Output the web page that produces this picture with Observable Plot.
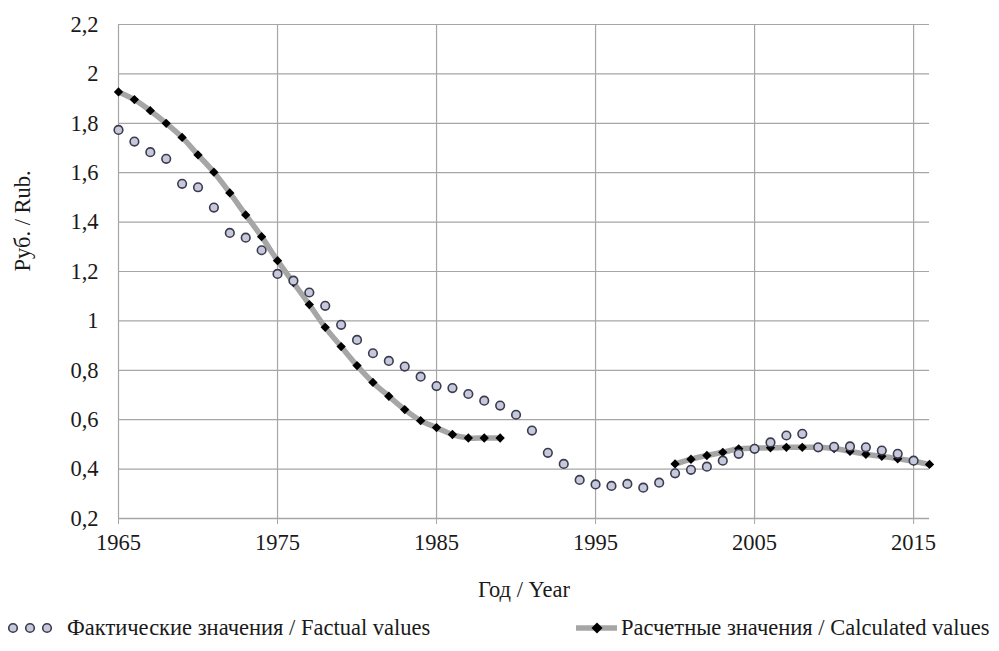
<!DOCTYPE html>
<html>
<head>
<meta charset="utf-8">
<script src="https://cdn.jsdelivr.net/npm/d3@7"></script>
<script src="https://cdn.jsdelivr.net/npm/@observablehq/plot@0.6"></script>
<style>
  html, body { margin: 0; padding: 0; background: #fff; }
  #wrap { position: relative; width: 999px; height: 651px; color: #1a1a1a; font-family: "Liberation Serif", serif; }
  #legend { position: absolute; left: 0; top: 610px; width: 999px; height: 41px; }
  .lg { position: absolute; top: 4px; font-size: 22.5px; line-height: 28px; white-space: nowrap; }
</style>
</head>
<body>
<div id="wrap">
  <div id="chart"></div>
  <div id="legend"></div>
</div>
<script>
const factualYears = [1965,1966,1967,1968,1969,1970,1971,1972,1973,1974,1975,1976,1977,1978,1979,1980,1981,1982,1983,1984,1985,1986,1987,1988,1989,1990,1991,1992,1993,1994,1995,1996,1997,1998,1999,2000,2001,2002,2003,2004,2005,2006,2007,2008,2009,2010,2011,2012,2013,2014,2015];
const factualValues = [1.773,1.726,1.683,1.656,1.555,1.541,1.459,1.356,1.337,1.286,1.19,1.163,1.115,1.061,0.984,0.923,0.869,0.838,0.815,0.774,0.736,0.728,0.704,0.677,0.657,0.62,0.556,0.466,0.421,0.356,0.338,0.332,0.34,0.325,0.345,0.383,0.397,0.41,0.434,0.462,0.482,0.508,0.536,0.543,0.488,0.49,0.492,0.488,0.475,0.462,0.434];

const calcYears1 = [1965,1966,1967,1968,1969,1970,1971,1972,1973,1974,1975,1976,1977,1978,1979,1980,1981,1982,1983,1984,1985,1986,1987,1988,1989];
const calcValues1 = [1.927,1.896,1.851,1.8,1.743,1.672,1.602,1.518,1.429,1.341,1.244,1.155,1.066,0.974,0.896,0.819,0.751,0.695,0.641,0.596,0.568,0.54,0.526,0.526,0.526];
const calcYears2 = [2000,2001,2002,2003,2004,2005,2006,2007,2008,2009,2010,2011,2012,2013,2014,2015,2016];
const calcValues2 = [0.421,0.44,0.455,0.468,0.482,0.485,0.486,0.488,0.488,0.488,0.483,0.472,0.46,0.452,0.442,0.432,0.419];

const xTicks = [1965,1975,1985,1995,2005,2015];
const yTicks = [0.2,0.4,0.6,0.8,1,1.2,1.4,1.6,1.8,2,2.2];
const xLabel = "Год / Year";
const yLabel = "Руб. / Rub.";
const legendFactual = "Фактические значения / Factual values";
const legendCalc = "Расчетные значения / Calculated values";

const fact = factualYears.map((y, i) => ({year: y, value: factualValues[i]}));
const calc1 = calcYears1.map((y, i) => ({year: y, value: calcValues1[i]}));
const calc2 = calcYears2.map((y, i) => ({year: y, value: calcValues2[i]}));
const calcAll = calc1.concat(calc2);

const GRID = "#a6a6a6";
const CIRCLE_FILL = "#c6c9db";
const CIRCLE_STROKE = "#3b3b4d";
const FS = 22.5;

const chart = Plot.plot({
  width: 999,
  height: 610,
  marginLeft: 118,
  marginRight: 70,
  marginTop: 24,
  marginBottom: 92,
  style: {fontFamily: "'Liberation Serif', serif", fontSize: FS + "px", color: "#1a1a1a", background: "#fff"},
  x: {domain: [1965, 2016]},
  y: {domain: [0.2, 2.2]},
  marks: [
    Plot.gridX(xTicks, {stroke: GRID, strokeOpacity: 1, strokeWidth: 1.2}),
    Plot.gridY(yTicks, {stroke: GRID, strokeOpacity: 1, strokeWidth: 1.2}),
    Plot.ruleY([0.2], {stroke: GRID, strokeWidth: 1.5}),
    Plot.axisX(xTicks, {tickSize: 6, stroke: GRID, tickPadding: 10, tickFormat: d => String(d), fill: "#1a1a1a", fontSize: FS, label: null}),
    Plot.axisY(yTicks, {tickSize: 0, tickPadding: 20, tickFormat: d => String(d).replace(".", ","), fill: "#1a1a1a", fontSize: FS, label: null}),
    Plot.line(calc1, {x: "year", y: "value", stroke: GRID, strokeWidth: 5.5, curve: "catmull-rom"}),
    Plot.line(calc2, {x: "year", y: "value", stroke: GRID, strokeWidth: 5.5, curve: "catmull-rom"}),
    Plot.dot(calcAll, {x: "year", y: "value", symbol: "diamond2", r: 4.2, fill: "#000", stroke: "none"}),
    Plot.dot(fact, {x: "year", y: "value", r: 4.3, fill: CIRCLE_FILL, stroke: CIRCLE_STROKE, strokeWidth: 1.6}),
    Plot.text([xLabel], {frameAnchor: "bottom", dy: 78, fontSize: FS, fill: "#1a1a1a"}),
    Plot.text([yLabel], {frameAnchor: "left", dx: -96, rotate: -90, fontSize: FS, fill: "#1a1a1a"})
  ]
});
document.getElementById("chart").appendChild(chart);

// legend
const lg = document.getElementById("legend");
lg.innerHTML = `
  <svg width="999" height="41" style="position:absolute;left:0;top:0">
    <circle cx="13" cy="18" r="4.3" fill="${CIRCLE_FILL}" stroke="${CIRCLE_STROKE}" stroke-width="1.6"/>
    <circle cx="30" cy="18" r="4.3" fill="${CIRCLE_FILL}" stroke="${CIRCLE_STROKE}" stroke-width="1.6"/>
    <circle cx="47" cy="18" r="4.3" fill="${CIRCLE_FILL}" stroke="${CIRCLE_STROKE}" stroke-width="1.6"/>
    <line x1="576" x2="617" y1="18" y2="18" stroke="${GRID}" stroke-width="5.5"/>
    <path d="M597,12.5 L602.5,18 L597,23.5 L591.5,18 Z" fill="#000"/>
  </svg>
  <div class="lg" style="left:67px">${legendFactual}</div>
  <div class="lg" style="left:621px">${legendCalc}</div>
`;
</script>
</body>
</html>
